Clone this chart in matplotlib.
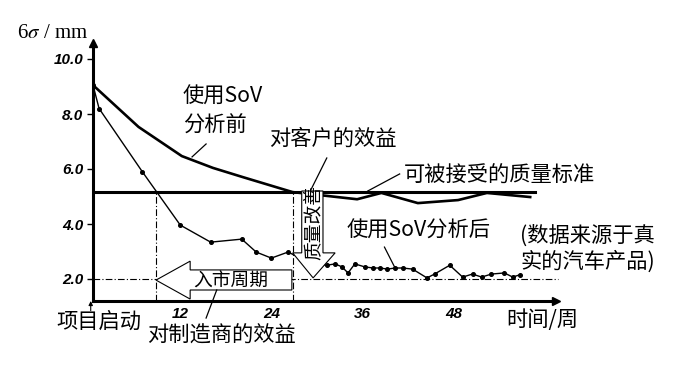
import matplotlib
matplotlib.use("Agg")
import matplotlib.pyplot as plt
from matplotlib.patches import Polygon

plt.rcParams['font.family'] = ['Noto Sans CJK SC', 'DejaVu Sans']
plt.rcParams['mathtext.fontset'] = 'stix'

# 使用SoV分析前 (6σ, mm) vs week
weeks_before = [0.5, 6.5, 12.2, 16.3, 20.3, 26.8, 35.3, 38.5, 43.3, 48.6, 52.4, 58.1]
sigma_before = [9.05, 7.53, 6.47, 6.04, 5.70, 5.16, 4.90, 5.13, 4.76, 4.87, 5.13, 4.98]

# 使用SoV分析后
weeks_after = [0.5, 1.3, 7.0, 12.0, 16.0, 20.1, 22.0, 24.0, 26.2, 29.0, 31.3, 32.4,
               33.3, 34.1, 35.0, 36.3, 37.4, 38.3, 39.3, 40.3, 41.3, 42.6, 44.5,
               45.5, 47.5, 49.2, 50.5, 51.7, 53.0, 54.7, 55.8, 56.7]
sigma_after = [9.05, 8.20, 5.90, 3.96, 3.34, 3.45, 2.98, 2.76, 2.98, 2.60, 2.50, 2.55,
               2.44, 2.22, 2.55, 2.44, 2.40, 2.40, 2.36, 2.40, 2.40, 2.36, 2.04,
               2.18, 2.50, 2.07, 2.18, 2.07, 2.18, 2.22, 2.07, 2.15]

quality_std = 5.16     # 可被接受的质量标准
target_level = 2.0
market_week = 8.8      # 入市
customer_week = 26.8

yticks = [2.0, 4.0, 6.0, 8.0, 10.0]
xticks = [12, 24, 36, 48]

W, H = 676, 367
fig = plt.figure(figsize=(W / 100, H / 100), dpi=100)
ax = fig.add_axes([93 / W, 1 - 301 / H, 463 / W, 258.5 / H])
ax.set_xlim(0.5, 61.5)
ax.set_ylim(1.2, 10.6)

for s in ['top', 'right']:
    ax.spines[s].set_visible(False)
for s in ['left', 'bottom']:
    ax.spines[s].set_linewidth(2.2)
ax.plot(1, 0, '>k', ms=6, transform=ax.transAxes, clip_on=False)
ax.plot(0, 1, '^k', ms=6, transform=ax.transAxes, clip_on=False)

tickfont = dict(family='Liberation Sans', weight='bold', style='italic', size=11)
ax.set_yticks(yticks)
ax.set_yticklabels(['%.1f' % v for v in yticks], **tickfont)
ax.set_xticks(xticks)
ax.set_xticklabels([str(v) for v in xticks], **tickfont)
ax.tick_params(axis='y', length=4, width=1, pad=3)
ax.tick_params(axis='x', length=0, pad=4)

# reference lines
ax.plot([0.5, 58.7], [quality_std, quality_std], color='black', lw=2.2, zorder=4)
ax.plot([0.5, 61.7], [target_level, target_level], color='black', lw=0.8,
        ls=(0, (6, 2, 1, 2)), zorder=2, clip_on=False)
ax.plot([market_week, market_week], [1.2, quality_std], color='black', lw=0.8,
        ls=(0, (6, 2, 1, 2)), zorder=2)
ax.plot([customer_week, customer_week], [1.2, quality_std], color='black', lw=0.8,
        ls=(0, (6, 2, 1, 2)), zorder=2)

# data lines
ax.plot(weeks_before, sigma_before, color='black', lw=1.9, zorder=5)
ax.plot(weeks_after, sigma_after, color='black', lw=1.0, marker='o', ms=2.6, zorder=3)

# block arrows
left_arrow = [(8.8, 1.96), (13.3, 2.65), (13.3, 2.33), (26.7, 2.33),
              (26.7, 1.6), (13.3, 1.6), (13.3, 1.27)]
ax.add_patch(Polygon(left_arrow, closed=True, fc='white', ec='black', lw=0.8, zorder=6))
down_arrow = [(28.0, 5.2), (30.8, 5.2), (30.8, 2.95), (32.4, 2.95),
              (29.5, 2.04), (26.8, 2.95), (28.0, 2.95)]
ax.add_patch(Polygon(down_arrow, closed=True, fc='white', ec='black', lw=0.8, zorder=6))

# leader lines
leaders = [((15.4, 6.91), (13.55, 6.44)),
           ((31.3, 6.40), (29.2, 5.24)),
           ((40.9, 5.82), (36.7, 5.20)),
           ((38.9, 3.16), (40.3, 2.40)),
           ((15.4, 0.58), (16.8, 1.60))]
for (x0, y0), (x1, y1) in leaders:
    ax.plot([x0, x1], [y0, y1], color='black', lw=0.9, zorder=7, clip_on=False)

ax.annotate('', xy=(0.2, 1.2), xytext=(0.2, 0.85), annotation_clip=False,
            arrowprops=dict(arrowstyle='-|>', color='black', lw=0.8,
                            mutation_scale=6, shrinkA=0, shrinkB=0))


def ptext(px, py, s, **kw):
    kw.setdefault('va', 'center')
    kw.setdefault('size', 15.3)
    fig.text(px / W, 1 - py / H, s, **kw)


ptext(17, 34, r'6$\sigma$ / mm', family='Liberation Serif', size=15)
ptext(183, 97, '使用SoV')
ptext(183, 126, '分析前')
ptext(269, 139, '对客户的效益')
ptext(404, 176, '可被接受的质量标准')
ptext(347, 231, '使用SoV分析后')
ptext(520, 236, '(数据来源于真')
ptext(520, 262, '实的汽车产品)')
ptext(231, 281, '入市周期', ha='center', size=13.5, zorder=8)
ptext(313, 222, '质量改善', ha='center', size=13.5, rotation=90, zorder=8)
ptext(56, 322, '项目启动')
ptext(147, 336, '对制造商的效益')
ptext(506, 320, '时间/周')

fig.savefig('out.png', dpi=100)
